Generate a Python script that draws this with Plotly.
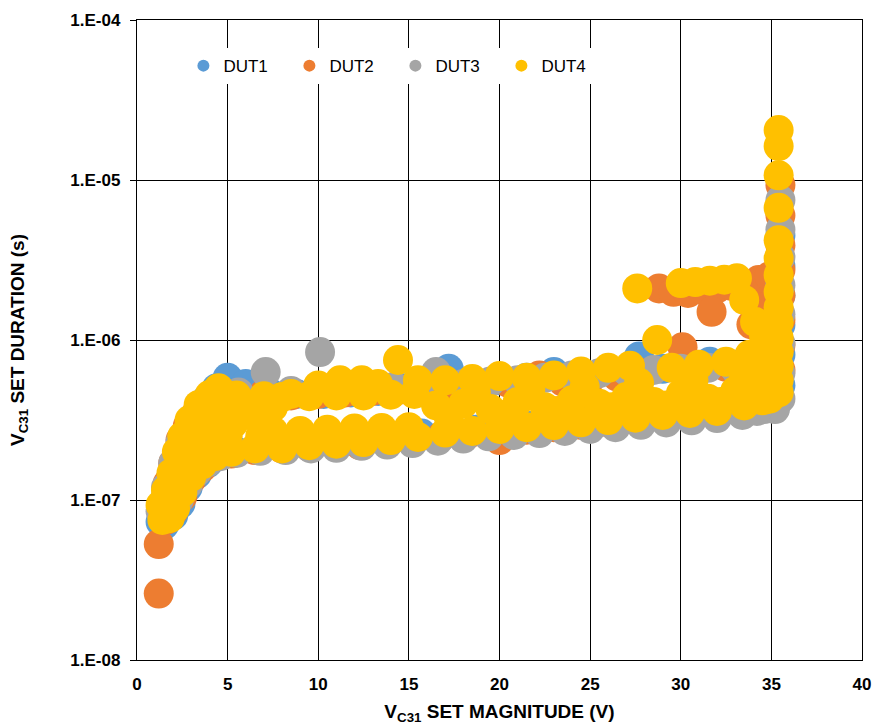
import plotly.graph_objects as go

# Set duration vs. set magnitude, four devices under test
dut1_v = [1.3, 1.6, 1.9, 2.3, 2.7, 3.2, 3.8, 4.4, 5.0, 6.0, 7.3, 8.8, 10.3, 11.8, 13.3, 14.8, 16.0, 17.2,
          18.5, 20.0, 21.5, 23.0, 24.5, 26.0, 27.7, 29.0, 30.3, 31.6, 32.9, 34.2,
          1.5, 2.0, 2.4, 2.8, 3.3, 3.9, 4.6, 5.5, 6.8, 8.2, 9.7, 11.2, 12.7, 14.2, 15.7, 17.2, 18.7,
          20.2, 21.7, 23.2, 24.7, 26.2, 27.7, 29.2, 30.7, 32.2, 33.7, 34.8,
          35.5, 35.5, 35.5, 35.5, 35.5, 35.5]
dut1_t = [7.3e-8, 1.05e-7, 1.4e-7, 1.9e-7, 2.5e-7, 3.3e-7, 4.2e-7, 5.0e-7, 5.8e-7, 5.3e-7, 4.7e-7, 4.6e-7,
          4.6e-7, 4.7e-7, 4.8e-7, 5.0e-7, 5.4e-7, 6.6e-7, 5.4e-7, 5.6e-7, 5.8e-7, 6.3e-7, 6.2e-7, 6.4e-7,
          7.9e-7, 6.6e-7, 6.9e-7, 7.3e-7, 7.0e-7, 6.6e-7,
          7.0e-8, 8.0e-8, 9.5e-8, 1.2e-7, 1.45e-7, 1.7e-7, 1.9e-7, 2.0e-7, 2.1e-7, 2.15e-7, 2.2e-7,
          2.4e-7, 2.45e-7, 2.5e-7, 2.6e-7, 2.7e-7, 2.75e-7, 2.8e-7, 2.9e-7, 3.0e-7, 3.1e-7, 3.2e-7,
          3.3e-7, 3.4e-7, 3.5e-7, 3.6e-7, 3.9e-7, 4.3e-7,
          4.5e-6, 2.9e-6, 1.9e-6, 1.24e-6, 8.1e-7, 5.2e-7]

dut2_v = [1.2, 1.2,
          1.5, 1.7, 2.0, 2.4, 2.8, 3.3, 3.9, 4.6, 5.6, 7.0, 8.5, 10.0, 11.5, 13.0, 14.5, 16.0, 17.5,
          19.0, 20.5, 22.2, 23.5, 25.0, 26.5, 28.0, 30.1, 31.0, 32.5, 34.0,
          1.6, 2.0, 2.5, 3.0, 3.6, 4.3, 5.2, 6.5, 8.0, 9.5, 11.0, 12.3, 13.8, 15.3, 16.8, 18.3, 20.0,
          21.5, 23.0, 24.5, 26.0, 27.5, 29.0, 30.5, 32.0, 33.5,
          28.8, 29.6, 30.4, 31.2, 32.0, 32.8, 33.6, 34.3, 34.9, 31.7, 33.9, 34.5,
          35.5, 35.5, 35.5, 35.5, 35.5, 35.5, 35.5, 35.5]
dut2_t = [2.6e-8, 5.3e-8,
          9.0e-8, 1.27e-7, 1.7e-7, 2.37e-7, 2.9e-7, 3.5e-7, 4.1e-7, 4.5e-7, 4.6e-7, 4.6e-7, 4.5e-7,
          4.6e-7, 4.7e-7, 4.8e-7, 4.9e-7, 5.0e-7, 5.1e-7, 5.2e-7, 5.4e-7, 6.0e-7, 5.5e-7, 5.7e-7,
          5.9e-7, 6.2e-7, 9.0e-7, 6.5e-7, 6.8e-7, 7.2e-7,
          7.5e-8, 8.5e-8, 1.05e-7, 1.35e-7, 1.6e-7, 1.85e-7, 1.95e-7, 2.05e-7, 2.1e-7, 2.15e-7,
          2.2e-7, 2.2e-7, 2.3e-7, 2.4e-7, 2.5e-7, 2.6e-7, 2.37e-7, 2.75e-7, 2.85e-7, 2.95e-7,
          3.05e-7, 3.15e-7, 3.25e-7, 3.35e-7, 3.5e-7, 3.8e-7,
          2.1e-6, 2.0e-6, 1.97e-6, 2.05e-6, 2.1e-6, 2.18e-6, 2.25e-6, 2.37e-6, 2.5e-6, 1.5e-6,
          1.25e-6, 1.6e-6,
          9.3e-6, 6.0e-6, 3.9e-6, 2.74e-6, 1.9e-6, 1.34e-6, 9.3e-7, 6.5e-7]

dut3_v = [1.3, 1.6, 2.0, 2.4, 2.9, 3.4, 4.0, 4.6, 5.6, 7.1, 8.5, 10.1, 11.3, 12.8, 14.2, 15.6, 16.5,
          18.0, 19.5, 21.0, 22.5, 24.0, 25.5, 27.0, 28.5, 30.0, 31.5, 33.0, 34.3,
          1.5, 1.9, 2.3, 2.8, 3.3, 3.9, 4.6, 5.5, 6.8, 8.2, 9.6, 11.0, 12.4, 13.8, 15.2, 16.6, 18.0,
          19.4, 20.8, 22.2, 23.6, 25.0, 26.4, 27.8, 29.2, 30.6, 32.0, 33.4, 34.6,
          35.5, 35.5, 35.5, 35.5, 35.5, 35.5, 35.5, 35.5, 35.2, 34.2]
dut3_t = [8.5e-8, 1.2e-7, 1.7e-7, 2.3e-7, 2.8e-7, 3.6e-7, 4.3e-7, 4.8e-7, 4.7e-7, 6.3e-7, 4.8e-7,
          8.4e-7, 5.0e-7, 5.0e-7, 5.1e-7, 5.2e-7, 6.3e-7, 5.3e-7, 5.5e-7, 5.6e-7, 5.8e-7, 6.0e-7,
          6.2e-7, 6.4e-7, 6.5e-7, 6.6e-7, 6.7e-7, 6.6e-7, 6.4e-7,
          7.8e-8, 8.3e-8, 1.0e-7, 1.25e-7, 1.5e-7, 1.72e-7, 1.88e-7, 1.97e-7, 2.03e-7, 2.05e-7,
          2.1e-7, 2.12e-7, 2.18e-7, 2.22e-7, 2.27e-7, 2.35e-7, 2.42e-7, 2.5e-7, 2.55e-7, 2.62e-7,
          2.7e-7, 2.78e-7, 2.85e-7, 2.95e-7, 3.05e-7, 3.15e-7, 3.25e-7, 3.4e-7, 3.7e-7,
          7.5e-6, 4.9e-6, 3.3e-6, 2.2e-6, 1.45e-6, 9.5e-7, 6.2e-7, 4.3e-7, 3.7e-7, 3.6e-7]

dut4_v = [1.3, 1.6, 1.9, 2.2, 2.5, 2.9, 3.4, 4.0, 4.5, 5.5, 7.0, 8.5, 10.0, 11.2, 12.4, 13.3, 14.4,
          15.5, 17.0, 18.5, 20.0, 21.5, 23.0, 24.5, 26.0, 27.2, 28.7, 29.5, 31.0, 32.5, 33.8,
          8.0, 9.5, 11.0, 12.5, 14.0, 15.3,
          7.5, 9.0, 10.5, 12.0, 13.5, 15.0,
          1.4, 1.8, 2.1, 2.5, 3.0, 3.6, 4.3, 5.2, 6.5, 8.0, 9.5, 11.0, 12.5, 14.0, 15.5, 17.0, 18.5,
          20.0, 21.5, 23.0, 24.5, 26.0, 27.5, 29.0, 30.5, 32.0, 33.5, 34.5,
          2.7, 3.2, 3.8, 4.5, 5.3, 6.2, 7.0, 4.0, 5.0, 5.8, 6.8, 7.5, 4.8,
          16.5, 18.0, 19.5, 21.0, 22.5, 24.0, 25.5, 27.0, 28.5, 30.0, 31.5, 33.0, 34.2,
          17.2, 20.2, 23.2, 26.2, 29.2, 32.2, 18.7, 21.7, 24.7, 27.7, 30.7, 33.5,
          34.0, 34.8, 33.5, 34.9,
          27.6, 30.0, 30.8, 31.6, 32.4, 33.1, 33.5, 34.1, 34.6, 35.0,
          35.4, 35.4, 35.4, 35.4, 35.4, 35.4, 35.4, 35.4, 35.4, 35.4, 35.4, 35.4, 35.4, 35.4, 35.4]
dut4_t = [9.3e-8, 1.15e-7, 1.47e-7, 2.0e-7, 2.5e-7, 3.16e-7, 3.93e-7, 4.53e-7, 5.0e-7, 4.5e-7,
          4.45e-7, 4.6e-7, 5.2e-7, 5.6e-7, 5.6e-7, 5.3e-7, 7.5e-7, 5.6e-7, 5.6e-7, 5.7e-7, 5.95e-7,
          5.8e-7, 6.0e-7, 6.35e-7, 6.7e-7, 6.9e-7, 1.0e-6, 6.7e-7, 7.0e-7, 7.3e-7, 8.1e-7,
          4.4e-7, 4.45e-7, 4.5e-7, 4.5e-7, 4.55e-7, 4.6e-7,
          2.7e-7, 2.7e-7, 2.75e-7, 2.8e-7, 2.82e-7, 2.85e-7,
          7.5e-8, 7.7e-8, 8.9e-8, 1.12e-7, 1.4e-7, 1.67e-7, 1.88e-7, 2.0e-7, 2.1e-7, 2.1e-7, 2.2e-7,
          2.25e-7, 2.3e-7, 2.37e-7, 2.48e-7, 2.64e-7, 2.7e-7, 2.78e-7, 2.85e-7, 2.94e-7, 3.06e-7,
          3.16e-7, 3.27e-7, 3.4e-7, 3.5e-7, 3.6e-7, 3.9e-7, 4.2e-7,
          1.8e-7, 2.4e-7, 2.9e-7, 3.2e-7, 3.0e-7, 3.4e-7, 3.1e-7, 2.3e-7, 2.5e-7, 3.8e-7, 2.5e-7,
          3.8e-7, 3.9e-7,
          3.9e-7, 4.0e-7, 3.7e-7, 4.1e-7, 3.8e-7, 4.2e-7, 4.0e-7, 4.4e-7, 4.1e-7, 4.6e-7, 4.3e-7,
          4.8e-7, 5.0e-7,
          3.3e-7, 3.4e-7, 3.6e-7, 3.8e-7, 3.9e-7, 4.1e-7, 4.7e-7, 4.9e-7, 5.1e-7, 5.4e-7, 5.6e-7,
          6.0e-7,
          7.0e-7, 6.0e-7, 5.2e-7, 4.3e-7,
          2.1e-6, 2.27e-6, 2.3e-6, 2.35e-6, 2.38e-6, 2.43e-6, 1.78e-6, 1.3e-6, 1.05e-6, 8.4e-7,
          2.05e-5, 1.63e-5, 1.07e-5, 6.7e-6, 4.2e-6, 3.25e-6, 2.55e-6, 2.0e-6, 1.6e-6, 1.29e-6,
          1.03e-6, 8.4e-7, 6.9e-7, 5.6e-7, 4.7e-7]

series_names = ["DUT1", "DUT2", "DUT3", "DUT4"]
series_colors = ["#5B9BD5", "#ED7D31", "#A5A5A5", "#FFC000"]

y_tick_vals = [1e-8, 1e-7, 1e-6, 1e-5, 1e-4]
y_tick_text = ["1.E-08", "1.E-07", "1.E-06", "1.E-05", "1.E-04"]
x_tick_vals = [0, 5, 10, 15, 20, 25, 30, 35, 40]

FONT = "Liberation Sans, Arial, Helvetica, sans-serif"

fig = go.Figure()
for name, color, vx, vy in zip(series_names, series_colors,
                               [dut1_v, dut2_v, dut3_v, dut4_v],
                               [dut1_t, dut2_t, dut3_t, dut4_t]):
    fig.add_trace(go.Scatter(
        x=vx, y=vy, mode="markers", name=name,
        marker=dict(color=color, size=30, line=dict(width=0)),
    ))

fig.update_layout(
    width=873, height=725,
    margin=dict(l=137, r=11, t=20, b=65),
    paper_bgcolor="white", plot_bgcolor="white",
    font=dict(family=FONT, color="black"),
    showlegend=True,
    legend=dict(
        orientation="h", x=0.064, y=0.928, xanchor="left", yanchor="middle",
        bgcolor="white", borderwidth=0, itemsizing="constant",
        font=dict(family=FONT, size=17, color="black"),
        entrywidth=61, entrywidthmode="pixels",
    ),
    # white panel behind the legend row, covering the gridlines
    shapes=[dict(type="rect", xref="paper", yref="paper", layer="between",
                 x0=0.018, x1=0.642, y0=0.892, y1=0.9625,
                 fillcolor="white", line=dict(width=0))],
    xaxis=dict(
        range=[0, 40], tickvals=x_tick_vals, ticks="", automargin=False,
        showgrid=True, gridcolor="black", gridwidth=1,
        showline=True, linecolor="black", linewidth=1.3, mirror=True,
        zeroline=False, ticklabelstandoff=8,
        tickfont=dict(family=FONT, size=17, weight="bold"),
        title=dict(text="V<sub>C31</sub> SET MAGNITUDE (V)",
                   font=dict(family=FONT, size=19, weight="bold"), standoff=22),
    ),
    yaxis=dict(
        type="log", range=[-8, -4], tickvals=y_tick_vals, ticktext=y_tick_text,
        ticks="outside", ticklen=6, tickcolor="black", tickwidth=1.3, automargin=False,
        showgrid=True, gridcolor="black", gridwidth=1,
        showline=True, linecolor="black", linewidth=1.3, mirror=True,
        zeroline=False, ticklabelstandoff=6,
        tickfont=dict(family=FONT, size=17, weight="bold"),
        title=dict(text="V<sub>C31</sub> SET DURATION (s)",
                   font=dict(family=FONT, size=19, weight="bold"), standoff=40),
    ),
)

fig.write_html("out.html")
